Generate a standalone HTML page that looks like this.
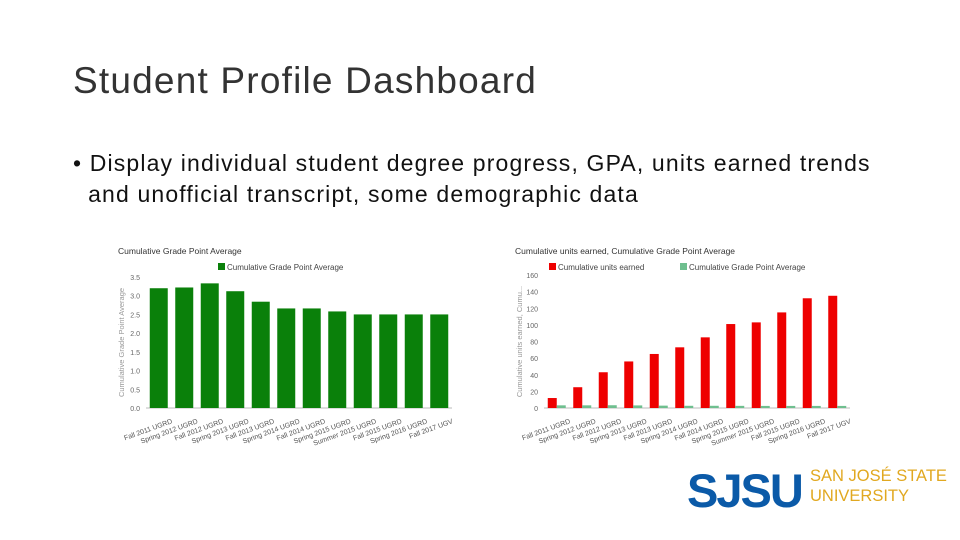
<!DOCTYPE html>
<html><head><meta charset="utf-8"><style>
html,body{margin:0;padding:0;background:#fff;}
body{width:960px;height:540px;position:relative;overflow:hidden;font-family:"Liberation Sans",sans-serif;}
#title{position:absolute;left:73px;top:60px;font-size:37px;color:#333;letter-spacing:1.2px;}
#bullet{position:absolute;left:73px;top:148px;font-size:23px;color:#111;line-height:31px;width:880px;letter-spacing:1.15px;white-space:nowrap;}
svg{position:absolute;left:0;top:0;}
</style></head><body>
<div id="title">Student Profile Dashboard</div>
<div id="bullet">• Display individual student degree progress, GPA, units earned trends<br>&nbsp;&nbsp;and unofficial transcript, some demographic data</div>
<svg id="chart" width="960" height="540"></svg>
<div style="position:absolute;left:687px;top:462px;">
<span style="position:absolute;left:0;top:2px;font-family:'Liberation Sans',sans-serif;font-weight:bold;font-size:47px;color:#0b5aa8;letter-spacing:-2px;line-height:54px;">SJSU</span>
<span style="position:absolute;left:123px;top:4px;font-family:'Liberation Sans',sans-serif;font-size:16.5px;color:#e1a820;line-height:20px;white-space:nowrap;">SAN JOSÉ STATE<br>UNIVERSITY</span>
</div>
<script>
const categories=["Fall 2011 UGRD","Spring 2012 UGRD","Fall 2012 UGRD","Spring 2013 UGRD","Fall 2013 UGRD","Spring 2014 UGRD","Fall 2014 UGRD","Spring 2015 UGRD","Summer 2015 UGRD","Fall 2015 UGRD","Spring 2016 UGRD","Fall 2017 UGV"];
const gpaValues=[3.2,3.22,3.33,3.12,2.84,2.66,2.66,2.58,2.5,2.5,2.5,2.5];
const unitsValues=[12,25,43,56,65,73,85,101,103,115,132,135];
const gpaTicks=[0,0.5,1,1.5,2,2.5,3,3.5];
const unitsTicks=[0,20,40,60,80,100,120,140,160];
const NS="http://www.w3.org/2000/svg";
const svg=document.getElementById('chart');
function mk(tag,attrs,text){const e=document.createElementNS(NS,tag);for(const k in attrs)e.setAttribute(k,attrs[k]);if(text!==undefined)e.textContent=text;svg.appendChild(e);return e;}
function drawChart(o){
  const y=v=>o.y0-(v-o.min)/(o.max-o.min)*(o.y0-o.y1);
  const step=(o.x1-o.x0)/categories.length;
  let t=mk('text',{x:o.tx,y:254,'font-size':8.5,fill:'#333'},o.title);
  
  
  o.legend.forEach(l=>{
    let r=mk('rect',{x:l.x,y:263,width:7,height:7,fill:l.c});
    
    
    let lt=mk('text',{x:l.x+9,y:270,'font-size':8,fill:'#444'},l.t);
    
    
  });
  o.ticks.forEach(v=>{
    let tt=mk('text',{x:o.x0-6,y:y(v)+3,'font-size':7,fill:'#666','text-anchor':'end'},String(o.dec?v.toFixed(1):v));
    
    
  });
  let yt=mk('text',{x:0,y:0,'font-size':7.5,fill:'#999','text-anchor':'middle',transform:`translate(${o.x0-22},${(o.y0+o.y1)/2}) rotate(-90)`},o.ytitle);
  
  
  let ax=mk('line',{x1:o.x0,x2:o.x1,y1:o.y0,y2:o.y0,stroke:'#bbb','stroke-width':1});
  
  
  categories.forEach((c,i)=>{
    const cx=o.x0+step*(i+0.5);
    o.series.forEach((s,j)=>{
      const bx=cx+s.off;
      let b=mk('rect',{x:bx,y:y(s.vals[i]),width:s.w,height:o.y0-y(s.vals[i]),fill:s.c});
      
      
    });
    let lab=mk('text',{x:0,y:0,'font-size':7,fill:'#555','text-anchor':'end',transform:`translate(${cx+14},${o.y0+15}) rotate(-20)`},c);
    
    
  });
}
drawChart({x0:146,x1:452,y0:408,y1:277,min:0,max:3.5,ticks:gpaTicks,dec:true,tx:118,title:'Cumulative Grade Point Average',
  ytitle:'Cumulative Grade Point Average',legend:[{x:218,c:'#0a800a',t:'Cumulative Grade Point Average'}],
  series:[{vals:gpaValues,c:'#0a800a',w:18,off:-9,name:'gpa-bar'}]});
drawChart({x0:544,x1:850,y0:408,y1:275,min:0,max:160,ticks:unitsTicks,dec:false,tx:515,title:'Cumulative units earned, Cumulative Grade Point Average',
  ytitle:'Cumulative units earned, Cumu...',legend:[{x:549,c:'#ee0000',t:'Cumulative units earned'},{x:680,c:'#6fbf8f',t:'Cumulative Grade Point Average'}],
  series:[{vals:unitsValues,c:'#ee0000',w:9,off:-9,name:'units-bar'},{vals:gpaValues,c:'#6fbf8f',w:9,off:0,name:'gpa-small-bar'}]});
</script>
</body></html>
